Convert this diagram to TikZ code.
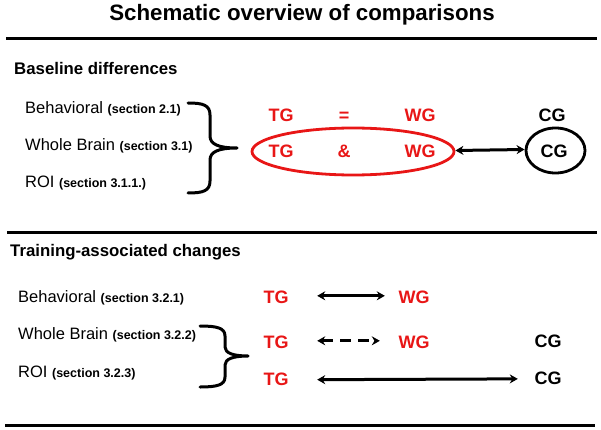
\documentclass[tikz,border=0pt]{standalone}
\usepackage{fontspec}
\setmainfont{Liberation Sans}
\usetikzlibrary{arrows.meta,shapes.geometric}
\definecolor{myred}{RGB}{232,22,22}
\tikzset{
  rule/.style={line width=3pt},
  titletext/.style={anchor=base,inner sep=0pt,font=\fontsize{22.3}{26}\selectfont\bfseries},
  headtext/.style={anchor=base west,inner sep=0pt,font=\fontsize{16.8}{20}\selectfont\bfseries},
  labeltext/.style={anchor=base west,inner sep=0pt,font=\fontsize{16.5}{20}\selectfont},
  grp/.style={anchor=base,inner sep=0pt,font=\fontsize{18}{20}\selectfont\bfseries},
  redgrp/.style={grp,text=myred},
  bracestyle/.style={line width=3pt,line cap=round,line join=round},
  dblarrow/.style={line width=3pt,{Stealth[length=8pt,width=9pt]}-{Stealth[length=8pt,width=9pt]}},
}
\newcommand{\sect}[1]{{\fontsize{12.5}{14}\selectfont\bfseries #1}}
\begin{document}
\begin{tikzpicture}[x=1pt,y=-1pt]
\useasboundingbox (0,0) rectangle (601,430);
% title and rules
\node[titletext] (title) at (302,21) {Schematic overview of comparisons};
\draw[rule] (6,39) -- (597,39);
\draw[rule] (7,232) -- (597,232);
\draw[rule] (5,425) -- (595,425);
% section 1
\node[headtext] (h1) at (14,75) {Baseline differences};
\node[labeltext] (l11) at (25,114) {Behavioral \sect{(section 2.1)}};
\node[labeltext] (l12) at (25,151) {Whole Brain \sect{(section 3.1)}};
\node[labeltext] (l13) at (25,188) {ROI \sect{(section 3.1.1.)}};
\draw[bracestyle] (188,103) .. controls (203,103) and (210,105) .. (210,115)
  -- (210,136) .. controls (210,144) and (218,148) .. (237,148)
  .. controls (218,148) and (210,152) .. (210,160)
  -- (210,181) .. controls (210,191) and (203,193) .. (188,193);
\node[redgrp] (tga) at (281,122) {TG};
\node[redgrp] (eq) at (344,122) {=};
\node[redgrp] (wga) at (420,122) {WG};
\node[grp] (cga) at (552,122) {CG};
\node[draw=myred,line width=2.8pt,ellipse,minimum width=202pt,minimum height=47pt,inner sep=0pt] (ell) at (353,151.5) {};
\node[redgrp] (tgb) at (281,158) {TG};
\node[redgrp] (amp) at (344,158) {\&};
\node[redgrp] (wgb) at (420,158) {WG};
\node[draw,line width=2.8pt,ellipse,minimum width=59pt,minimum height=45pt,inner sep=0pt] (circ) at (555.5,150.5) {};
\node[grp] (cgb) at (554,158) {CG};
\draw[dblarrow] ([yshift=1pt]ell.east) -- ([yshift=1pt]circ.west);
% section 2
\node[headtext] (h2) at (10,256) {Training-associated changes};
\node[labeltext] (l21) at (18,302) {Behavioral \sect{(section 3.2.1)}};
\node[labeltext] (l22) at (18,339) {Whole Brain \sect{(section 3.2.2)}};
\node[labeltext] (l23) at (18,377) {ROI \sect{(section 3.2.3)}};
\draw[bracestyle] (200,326) .. controls (217,326) and (225,328) .. (225,336)
  -- (225,347) .. controls (225,353) and (233,356) .. (248,356)
  .. controls (233,356) and (225,359) .. (225,365)
  -- (225,377) .. controls (225,385) and (217,387) .. (200,387);
\node[redgrp] (tg1) at (276,303) {TG};
\node[redgrp] (wg1) at (414,303) {WG};
\node[redgrp] (tg2) at (276,348) {TG};
\node[redgrp] (wg2) at (414,348) {WG};
\node[grp] (cg2) at (548,347) {CG};
\node[redgrp] (tg3) at (276,385) {TG};
\node[grp] (cg3) at (548,384) {CG};
\draw[dblarrow,shorten <=28.5pt,shorten >=13.5pt] ([yshift=1pt]tg1.east) -- ([yshift=1pt]wg1.west);
\draw[dblarrow,dash pattern=on 11pt off 7pt,shorten <=28.5pt,shorten >=18.5pt] ([yshift=1pt]tg2.east) -- ([yshift=1pt]wg2.west);
\draw[dblarrow,shorten <=28.5pt,shorten >=16.5pt] ([yshift=-1pt]tg3.east) -- ([yshift=-1pt]cg3.west);
\end{tikzpicture}
\end{document}
